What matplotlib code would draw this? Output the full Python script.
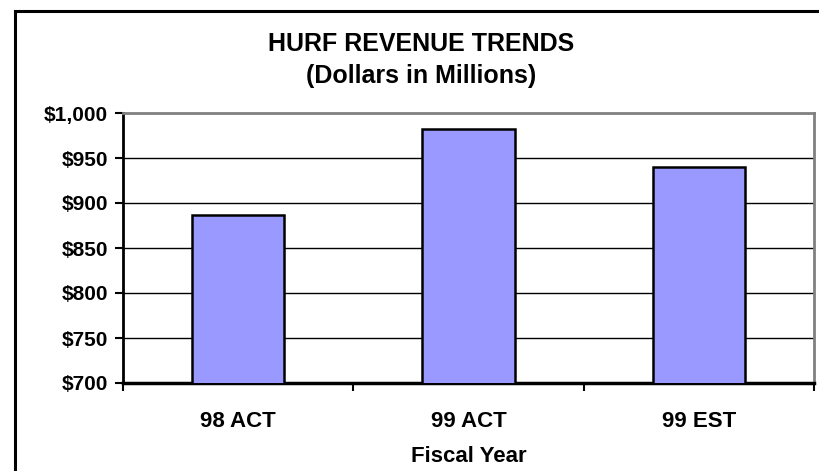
import matplotlib
matplotlib.use("Agg")
import matplotlib.pyplot as plt
from matplotlib.patches import Rectangle

categories = ["98 ACT", "99 ACT", "99 EST"]
revenue = [887, 982, 940]
y_ticks = [700, 750, 800, 850, 900, 950, 1000]
y_tick_labels = ["$700", "$750", "$800", "$850", "$900", "$950", "$1,000"]
title_lines = ["HURF REVENUE TRENDS", "(Dollars in Millions)"]
x_label = "Fiscal Year"

plt.rcParams['font.family'] = ['Liberation Sans', 'DejaVu Sans']
plt.rcParams['font.weight'] = 'bold'

fig = plt.figure(figsize=(8.2, 4.71), dpi=100)
ax = fig.add_axes([123/820, 1-383/471, (814-123)/820, (383-113)/471])

x = list(range(len(categories)))
ax.bar(x, revenue, width=0.4, color="#9999FF", edgecolor="black", linewidth=1.8, zorder=3)

ax.set_xlim(-0.5, len(categories) - 0.5)
ax.set_ylim(y_ticks[0], y_ticks[-1])
ax.set_yticks(y_ticks)
ax.set_yticklabels(y_tick_labels, fontsize=15, fontweight='bold')

ax.set_xticks([i + 0.5 for i in range(-1, len(categories))])
ax.set_xticklabels([])
ax.set_xticks(x, minor=True)
ax.set_xticklabels(categories, minor=True, fontsize=16, fontweight='bold')
ax.tick_params(axis='x', which='minor', length=0, pad=20)
ax.tick_params(axis='x', which='major', length=6, width=1.5, direction='out')
ax.tick_params(axis='y', length=6, width=1.5, direction='out', pad=5)

for v in y_ticks[1:-1]:
    ax.axhline(v, color='black', linewidth=1.0, zorder=1)

for s in ['top', 'right']:
    ax.spines[s].set_color('#808080')
    ax.spines[s].set_linewidth(2)
ax.spines['left'].set_linewidth(2)
ax.spines['bottom'].set_linewidth(2.5)

fig.text(421/820, 1-44/471, title_lines[0], ha='center', va='center', fontsize=18, fontweight='bold')
fig.text(421/820, 1-76/471, title_lines[1], ha='center', va='center', fontsize=18, fontweight='bold')
fig.text(469/820, 1-457/471, x_label, ha='center', va='center', fontsize=16, fontweight='bold')

fig.patches.append(Rectangle((15/820, -0.1), 1.0, 1-11/471+0.1, transform=fig.transFigure,
                             fill=False, edgecolor='black', linewidth=2.2, clip_on=False))

fig.savefig("out.png", dpi=100)
